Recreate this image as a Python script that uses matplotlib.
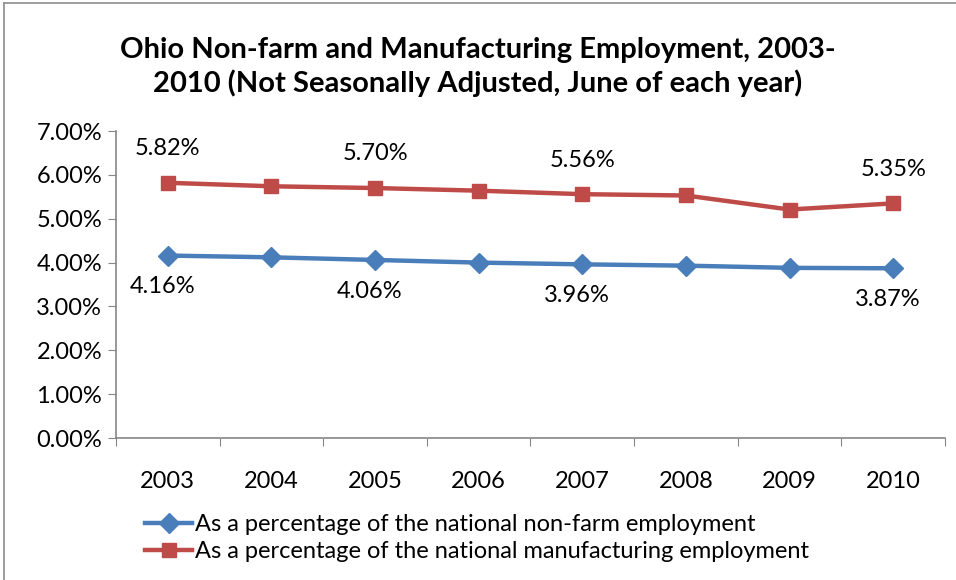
import matplotlib.pyplot as plt
from matplotlib.lines import Line2D
from matplotlib.ticker import PercentFormatter

YEARS = ['2003', '2004', '2005', '2006', '2007', '2008', '2009', '2010']
NONFARM = [4.16, 4.12, 4.06, 4.00, 3.96, 3.93, 3.88, 3.87]
MANUF = [5.82, 5.74, 5.70, 5.64, 5.56, 5.53, 5.21, 5.35]
LABELLED = [0, 2, 4, 7]  # points that carry a data label

BLUE = '#4A7EBB'
RED = '#BE4B48'

plt.rcParams['font.family'] = ['Lato', 'DejaVu Sans']

fig = plt.figure(figsize=(9.56, 5.8), dpi=100)
ax = fig.add_axes([0.1213, 0.2448, 0.8672, 0.5293])

x = list(range(len(YEARS)))
ax.plot(x, NONFARM, color=BLUE, lw=3.2, marker='D', ms=10,
        label='As a percentage of the national non-farm employment')
ax.plot(x, MANUF, color=RED, lw=3.2, marker='s', ms=10,
        label='As a percentage of the national manufacturing employment')

for i in LABELLED:
    ax.annotate(f'{MANUF[i]:.2f}%', (x[i], MANUF[i]), xytext=(0, 17),
                textcoords='offset points', ha='center', va='bottom', fontsize=17)
    ax.annotate(f'{NONFARM[i]:.2f}%', (x[i], NONFARM[i]), xytext=(-4, -15),
                textcoords='offset points', ha='center', va='top', fontsize=17)

ax.set_xlim(-0.5, len(YEARS) - 0.5)
ax.set_ylim(0, 7)
ax.set_yticks(range(8))
ax.yaxis.set_major_formatter(PercentFormatter(decimals=2))
ax.set_xticks([i - 0.5 for i in range(len(YEARS) + 1)], minor=False)
ax.set_xticklabels([])
ax.set_xticks(x, minor=True)
ax.set_xticklabels(YEARS, minor=True)
ax.tick_params(axis='x', which='major', length=6, color='#868686')
ax.tick_params(axis='x', which='minor', length=0, pad=24, labelsize=17)
ax.tick_params(axis='y', length=6, color='#868686', labelsize=17, pad=4)
for s in ['top', 'right']:
    ax.spines[s].set_visible(False)
for s in ['left', 'bottom']:
    ax.spines[s].set_color('#868686')
    ax.spines[s].set_linewidth(1.2)

fig.text(0.5, 0.885, 'Ohio Non-farm and Manufacturing Employment, 2003-\n'
         '2010 (Not Seasonally Adjusted, June of each year)',
         ha='center', va='center', fontsize=21, fontweight='bold', linespacing=1.3)

fig.legend(loc='upper left', bbox_to_anchor=(0.142, 0.13), frameon=False,
           fontsize=17, handlelength=2.0, handletextpad=0.1, borderaxespad=0,
           labelspacing=0.25)

# chart frame (gray border visible on left and top)
fig.add_artist(Line2D([0.004, 0.004], [0, 0.995], color='#8c8c8c', lw=1.2,
                      transform=fig.transFigure))
fig.add_artist(Line2D([0.004, 1.0], [0.995, 0.995], color='#8c8c8c', lw=1.2,
                      transform=fig.transFigure))

fig.savefig('out.png', dpi=100)
